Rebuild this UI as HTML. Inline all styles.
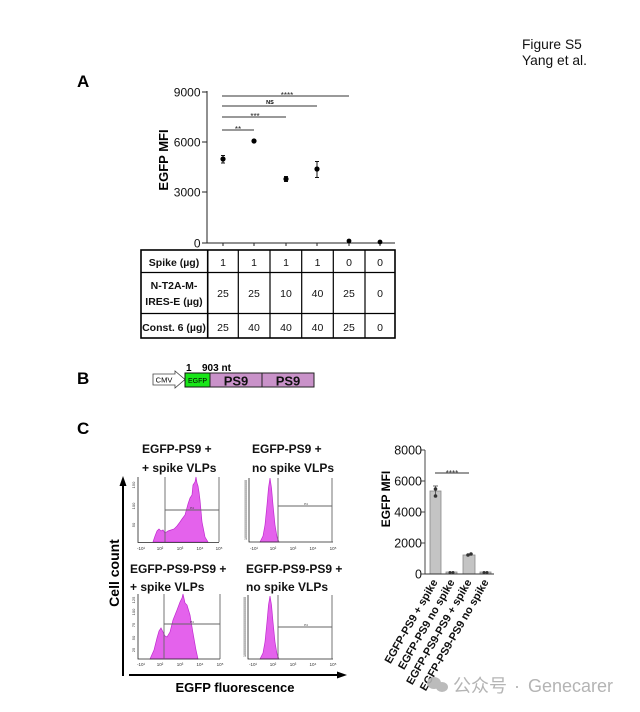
<!DOCTYPE html>
<html><head><meta charset="utf-8">
<style>
html,body{margin:0;padding:0;background:#fff;}
svg{display:block;}
text{font-family:"Liberation Sans","Noto Sans CJK SC",sans-serif;}
</style></head>
<body>
<svg width="640" height="712" viewBox="0 0 640 712" xmlns="http://www.w3.org/2000/svg">
<rect width="640" height="712" fill="#fff"/>

<!-- header -->
<text x="522" y="49" font-size="13.8" fill="#111">Figure  S5</text>
<text x="522" y="65" font-size="13.8" fill="#111">Yang et al.</text>

<!-- Panel letters -->
<text x="77" y="87" font-size="17" font-weight="bold">A</text>
<text x="77" y="384" font-size="17" font-weight="bold">B</text>
<text x="77" y="434" font-size="17" font-weight="bold">C</text>

<!-- ===== Panel A ===== -->
<g stroke="#222" stroke-width="1" fill="none">
  <line x1="207" y1="91" x2="207" y2="243.5"/>
  <line x1="202" y1="92" x2="207" y2="92"/>
  <line x1="202" y1="142" x2="207" y2="142"/>
  <line x1="202" y1="192" x2="207" y2="192"/>
  <line x1="202" y1="243" x2="207" y2="243"/>
  <line x1="207" y1="243" x2="395" y2="243"/>
  <line x1="223" y1="243" x2="223" y2="246"/>
  <line x1="254" y1="243" x2="254" y2="246"/>
  <line x1="286" y1="243" x2="286" y2="246"/>
  <line x1="317" y1="243" x2="317" y2="246"/>
  <line x1="349" y1="243" x2="349" y2="246"/>
  <line x1="380" y1="243" x2="380" y2="246"/>
</g>
<g font-size="12" text-anchor="end" fill="#111">
  <text x="200.5" y="96.5">9000</text>
  <text x="200.5" y="146.5">6000</text>
  <text x="200.5" y="196.5">3000</text>
  <text x="200.5" y="247.5">0</text>
</g>
<text transform="translate(168,160) rotate(-90)" font-size="13" font-weight="bold" text-anchor="middle">EGFP MFI</text>

<!-- significance -->
<g stroke="#333" stroke-width="1">
  <line x1="222" y1="96" x2="349" y2="96"/>
  <line x1="222" y1="106" x2="317" y2="106"/>
  <line x1="222" y1="117" x2="286" y2="117"/>
  <line x1="222" y1="130" x2="254" y2="130"/>
</g>
<g font-size="8" text-anchor="middle" fill="#222">
  <text x="287" y="98">****</text>
  <text x="255" y="119">***</text>
  <text x="238" y="132">**</text>
</g>
<text x="270" y="104" font-size="5.5" font-weight="bold" text-anchor="middle">NS</text>

<!-- points & error bars -->
<g stroke="#111" stroke-width="1">
  <line x1="223" y1="155.5" x2="223" y2="163"/><line x1="221" y1="155.5" x2="225" y2="155.5"/><line x1="221" y1="163" x2="225" y2="163"/>
  <line x1="286" y1="176.5" x2="286" y2="181.5"/><line x1="284" y1="176.5" x2="288" y2="176.5"/><line x1="284" y1="181.5" x2="288" y2="181.5"/>
  <line x1="317" y1="161.5" x2="317" y2="177.5"/><line x1="315" y1="161.5" x2="319" y2="161.5"/><line x1="315" y1="177.5" x2="319" y2="177.5"/>
</g>
<g fill="#000">
  <circle cx="223" cy="159" r="2.6"/>
  <circle cx="254" cy="141" r="2.6"/>
  <circle cx="286" cy="179" r="2.6"/>
  <circle cx="317" cy="169" r="2.6"/>
  <circle cx="349" cy="241" r="2.4"/>
  <circle cx="380" cy="242" r="2.4"/>
</g>

<!-- table -->
<g stroke="#000" fill="none">
  <rect x="141" y="250" width="254" height="88" stroke-width="1.6"/>
  <line x1="141" y1="272.5" x2="395" y2="272.5" stroke-width="1.2"/>
  <line x1="141" y1="313.5" x2="395" y2="313.5" stroke-width="1.2"/>
  <line x1="207.7" y1="250" x2="207.7" y2="338" stroke-width="1.6"/>
  <line x1="238.3" y1="250" x2="238.3" y2="338" stroke-width="1.2"/>
  <line x1="270" y1="250" x2="270" y2="338" stroke-width="1.2"/>
  <line x1="301.7" y1="250" x2="301.7" y2="338" stroke-width="1.2"/>
  <line x1="333.3" y1="250" x2="333.3" y2="338" stroke-width="1.2"/>
  <line x1="365" y1="250" x2="365" y2="338" stroke-width="1.2"/>
</g>
<g font-size="10.5" font-weight="bold" text-anchor="middle" fill="#111">
  <text x="174" y="266">Spike (µg)</text>
  <text x="174" y="289">N-T2A-M-</text>
  <text x="174" y="305">IRES-E (µg)</text>
  <text x="174" y="331">Const. 6 (µg)</text>
</g>
<g font-size="10.5" text-anchor="middle" fill="#111">
  <text x="223" y="266">1</text><text x="254" y="266">1</text><text x="286" y="266">1</text><text x="317.5" y="266">1</text><text x="349" y="266">0</text><text x="380" y="266">0</text>
  <text x="223" y="297">25</text><text x="254" y="297">25</text><text x="286" y="297">10</text><text x="317.5" y="297">40</text><text x="349" y="297">25</text><text x="380" y="297">0</text>
  <text x="223" y="331">25</text><text x="254" y="331">40</text><text x="286" y="331">40</text><text x="317.5" y="331">40</text><text x="349" y="331">25</text><text x="380" y="331">0</text>
</g>

<!-- ===== Panel B ===== -->
<polygon points="153,374 175,374 175,371 185,379.5 175,388 175,385 153,385" fill="#fff" stroke="#444" stroke-width="0.8"/>
<text x="164" y="382.5" font-size="7.5" text-anchor="middle">CMV</text>
<rect x="185" y="373" width="25" height="14" fill="#19e619" stroke="#111" stroke-width="1"/>
<text x="197.5" y="383" font-size="7" text-anchor="middle" fill="#000">EGFP</text>
<rect x="210" y="373" width="52" height="14" fill="#c992c9" stroke="#222" stroke-width="1"/>
<rect x="262" y="373" width="52" height="14" fill="#c992c9" stroke="#222" stroke-width="1"/>
<text x="236" y="385.5" font-size="13" font-weight="bold" text-anchor="middle" fill="#111">PS9</text>
<text x="288" y="385.5" font-size="13" font-weight="bold" text-anchor="middle" fill="#111">PS9</text>
<text x="186" y="371" font-size="10" font-weight="bold">1</text>
<text x="202" y="371" font-size="10" font-weight="bold">903 nt</text>

<!-- ===== Panel C ===== -->
<g font-size="12" font-weight="bold" fill="#111">
  <text x="142" y="453">EGFP-PS9 +</text>
  <text x="142" y="472">+ spike VLPs</text>
  <text x="252" y="453">EGFP-PS9 +</text>
  <text x="252" y="472">no spike VLPs</text>
  <text x="130" y="573">EGFP-PS9-PS9 +</text>
  <text x="130" y="591">+ spike VLPs</text>
  <text x="246" y="573">EGFP-PS9-PS9 +</text>
  <text x="246" y="591">no spike VLPs</text>
</g>

<!-- histograms -->
<g fill="#e462ec" stroke="#c02ad0" stroke-width="0.7">
  <path d="M153,542 L155,536 L157,531 L159,529 L161,531 L163,530 L165,533 L168,531 L171,530 L174,529 L177,526 L180,522 L182,519 L185,515 L188,504 L190,498 L192,495 L193,485 L195,482 L196,477 L197,483 L198,486 L199,492 L200,500 L202,522 L205,537 L208,542 Z"/>
  <path d="M260,542 L263,536 L265,525 L267,505 L268.5,488 L270,478 L271.5,488 L273,505 L275,525 L277,537 L279,542 Z"/>
  <path d="M150,659 L154,650 L157,638 L159,631 L161,628 L163,632 L165,636 L167,637 L170,632 L173,620 L177,610 L180,602 L182,598 L183,594 L185,603 L187,605 L190,615 L193,633 L196,650 L198,659 Z"/>
  <path d="M260,659 L263,653 L265,642 L267,622 L268.5,605 L270,596 L271.5,605 L273,622 L275,642 L277,654 L279,659 Z"/>
</g>
<g stroke="#222" stroke-width="0.8" fill="none">
  <polyline points="138,477 138,542.5 219,542.5"/>
  <polyline points="249,478 249,542 333,542"/>
  <polyline points="138,594 138,659 220,659"/>
  <polyline points="248,595 248,659 333,659"/>
</g>
<g stroke="#666" stroke-width="0.9" fill="none">
  <line x1="165" y1="477" x2="165" y2="542"/><line x1="219" y1="477" x2="219" y2="542"/><line x1="165" y1="510" x2="219" y2="510"/>
  <line x1="278" y1="478" x2="278" y2="542"/><line x1="332" y1="478" x2="332" y2="542"/><line x1="278" y1="506" x2="332" y2="506"/>
  <line x1="164" y1="594" x2="164" y2="659"/><line x1="220" y1="594" x2="220" y2="659"/><line x1="164" y1="624" x2="220" y2="624"/>
  <line x1="278" y1="595" x2="278" y2="659"/><line x1="332" y1="595" x2="332" y2="659"/><line x1="278" y1="627" x2="332" y2="627"/>
</g>
<g font-size="3" fill="#333" text-anchor="middle">
  <text x="192" y="509">P4</text><text x="306" y="505">P4</text>
  <text x="192" y="623">P4</text><text x="306" y="626">P4</text>
</g>
<!-- tick labels tiny -->
<g font-size="4.5" fill="#333" text-anchor="middle">
  <text x="141" y="550">-10¹</text><text x="160" y="550">10²</text><text x="180" y="550">10³</text><text x="200" y="550">10⁴</text><text x="219" y="550">10⁵</text>
  <text x="254" y="550">-10¹</text><text x="273" y="550">10²</text><text x="293" y="550">10³</text><text x="313" y="550">10⁴</text><text x="333" y="550">10⁵</text>
  <text x="141" y="666">-10¹</text><text x="160" y="666">10²</text><text x="180" y="666">10³</text><text x="200" y="666">10⁴</text><text x="220" y="666">10⁵</text>
  <text x="253" y="666">-10¹</text><text x="273" y="666">10²</text><text x="293" y="666">10³</text><text x="313" y="666">10⁴</text><text x="333" y="666">10⁵</text>
</g>
<g font-size="4" fill="#333">
  <text transform="translate(135,485) rotate(-90)" text-anchor="middle">150</text>
  <text transform="translate(135,506) rotate(-90)" text-anchor="middle">100</text>
  <text transform="translate(135,525) rotate(-90)" text-anchor="middle">50</text>
  <text transform="translate(135,600) rotate(-90)" text-anchor="middle">125</text>
  <text transform="translate(135,612) rotate(-90)" text-anchor="middle">100</text>
  <text transform="translate(135,625) rotate(-90)" text-anchor="middle">75</text>
  <text transform="translate(135,638) rotate(-90)" text-anchor="middle">50</text>
  <text transform="translate(135,650) rotate(-90)" text-anchor="middle">25</text>
  <text transform="translate(247,510) rotate(-90)" text-anchor="middle" font-size="3.6">100000000000000000000000000000</text>
  <text transform="translate(246,627) rotate(-90)" text-anchor="middle" font-size="3.6">100000000000000000000000000000</text>
</g>

<!-- big arrows -->
<g stroke="#000" stroke-width="2">
  <line x1="123" y1="676" x2="123" y2="484"/>
  <line x1="129" y1="675" x2="340" y2="675"/>
</g>
<polygon points="123,476 119.5,486 126.5,486" fill="#000"/>
<polygon points="347,675 337,671.5 337,678.5" fill="#000"/>
<text transform="translate(119,573) rotate(-90)" font-size="14" font-weight="bold" text-anchor="middle">Cell count</text>
<text x="235" y="692" font-size="13" font-weight="bold" text-anchor="middle">EGFP fluorescence</text>

<!-- bar chart -->
<g stroke="#333" stroke-width="0.9" fill="none">
  <line x1="425" y1="450" x2="425" y2="574.5"/>
  <line x1="421" y1="450" x2="425" y2="450"/>
  <line x1="421" y1="481" x2="425" y2="481"/>
  <line x1="421" y1="512" x2="425" y2="512"/>
  <line x1="421" y1="543" x2="425" y2="543"/>
  <line x1="421" y1="574" x2="425" y2="574"/>
</g>
<g font-size="12.5" text-anchor="end" fill="#111">
  <text x="422" y="454.5">8000</text>
  <text x="422" y="485.5">6000</text>
  <text x="422" y="516.5">4000</text>
  <text x="422" y="547.5">2000</text>
  <text x="422" y="578.5">0</text>
</g>
<text transform="translate(390,499) rotate(-90)" font-size="12" font-weight="bold" text-anchor="middle">EGFP MFI</text>
<g fill="#c4c4c4" stroke="#8a8a8a" stroke-width="0.8">
  <rect x="430" y="491" width="11" height="83"/>
  <rect x="446" y="572" width="11" height="2"/>
  <rect x="463" y="555" width="12" height="19"/>
  <rect x="480" y="572" width="11" height="2"/>
</g>
<line x1="425" y1="574" x2="494" y2="574" stroke="#333" stroke-width="0.9"/>
<g stroke="#444" stroke-width="0.8">
  <line x1="435.5" y1="486" x2="435.5" y2="496"/><line x1="433" y1="486" x2="438" y2="486"/>
</g>
<g fill="#333">
  <circle cx="435.5" cy="489" r="1.8"/><circle cx="435.5" cy="496" r="1.8"/>
  <circle cx="450" cy="572.5" r="1.5"/><circle cx="453" cy="572.5" r="1.5"/>
  <circle cx="468" cy="555" r="1.8"/><circle cx="471" cy="554" r="1.8"/>
  <circle cx="484" cy="572.5" r="1.5"/><circle cx="487" cy="572.5" r="1.5"/>
</g>
<line x1="435" y1="473" x2="469" y2="473" stroke="#333" stroke-width="1"/>
<text x="452" y="476" font-size="8" text-anchor="middle" fill="#333">****</text>
<g font-size="11" font-weight="bold" text-anchor="end" fill="#111">
  <text transform="translate(438,582) rotate(-60)">EGFP-PS9 + spike</text>
  <text transform="translate(455,582) rotate(-60)">EGFP-PS9 no spike</text>
  <text transform="translate(472,582) rotate(-60)">EGFP-PS9-PS9 + spike</text>
  <text transform="translate(489,582) rotate(-60)">EGFP-PS9-PS9 no spike</text>
</g>

<!-- watermark -->
<g fill="#b4b4b4" opacity="0.9">
  <ellipse cx="434" cy="683" rx="7" ry="6"/>
  <ellipse cx="442" cy="687" rx="6" ry="5"/>
</g>
<text x="453" y="692" font-size="18" fill="#b4b4b4">公众号</text>
<text x="517" y="692" font-size="18" fill="#b4b4b4" text-anchor="middle">·</text>
<text x="528" y="692" font-size="18" fill="#b4b4b4">Genecarer</text>
</svg>
</body></html>
